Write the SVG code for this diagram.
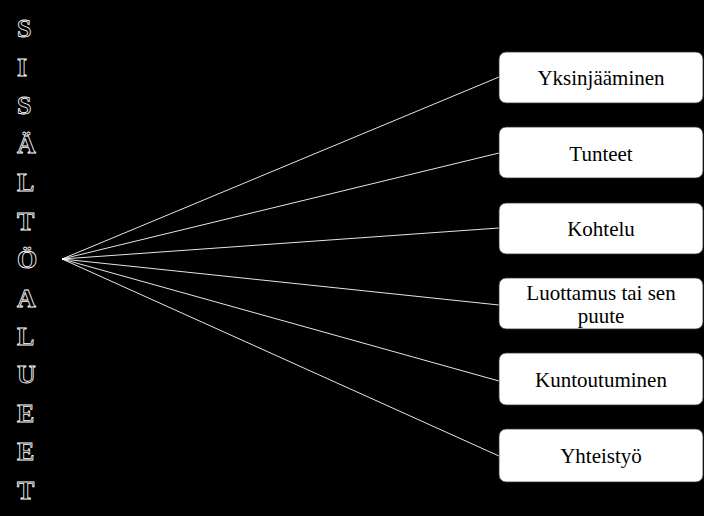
<svg xmlns="http://www.w3.org/2000/svg" width="704" height="516" viewBox="0 0 704 516">
<style>
.bg{fill:#000}
.box{fill:#fff;stroke:#333;stroke-width:0.8}
.lbl{font-family:'Liberation Serif','DejaVu Serif',serif;font-size:21px;fill:#000;text-anchor:middle}
.vt{font-family:'Liberation Serif','DejaVu Serif',serif;font-size:26px;font-weight:bold;fill:#000;stroke:#fff;stroke-width:0.8}
.con{stroke:#fff;stroke-width:0.9;fill:none}
</style>
<rect class="bg" x="0" y="0" width="704" height="516"/>
<g id="title">
<text class="vt" x="17" y="37.3">S</text>
<text class="vt" x="17" y="75.8">I</text>
<text class="vt" x="17" y="114.2">S</text>
<text class="vt" x="17" y="152.7">Ä</text>
<text class="vt" x="17" y="191.1">L</text>
<text class="vt" x="17" y="229.6">T</text>
<text class="vt" x="17" y="268">Ö</text>
<text class="vt" x="17" y="306.5">A</text>
<text class="vt" x="17" y="344.9">L</text>
<text class="vt" x="17" y="383.4">U</text>
<text class="vt" x="17" y="421.8">E</text>
<text class="vt" x="17" y="460.3">E</text>
<text class="vt" x="17" y="498.7">T</text>
</g>
<g id="connectors">
<line class="con" x1="62" y1="259" x2="499" y2="77"/>
<line class="con" x1="62" y1="259" x2="499" y2="153"/>
<line class="con" x1="62" y1="259" x2="499" y2="228"/>
<line class="con" x1="62" y1="259" x2="499" y2="305"/>
<line class="con" x1="62" y1="259" x2="499" y2="381"/>
<line class="con" x1="62" y1="259" x2="499" y2="456"/>
</g>
<g id="n1"><rect class="box" x="499" y="52" width="204" height="51" rx="7"/><text class="lbl" x="601" y="85">Yksinjääminen</text></g>
<g id="n2"><rect class="box" x="499" y="127" width="204" height="51" rx="7"/><text class="lbl" x="601" y="160.5">Tunteet</text></g>
<g id="n3"><rect class="box" x="499" y="203" width="204" height="51" rx="7"/><text class="lbl" x="601" y="236">Kohtelu</text></g>
<g id="n4"><rect class="box" x="499" y="278" width="204" height="51" rx="7"/><text class="lbl" x="601" y="300">Luottamus tai sen</text><text class="lbl" x="601" y="323">puute</text></g>
<g id="n5"><rect class="box" x="499" y="353" width="204" height="52" rx="7"/><text class="lbl" x="601" y="387">Kuntoutuminen</text></g>
<g id="n6"><rect class="box" x="499" y="429" width="204" height="53" rx="7"/><text class="lbl" x="601" y="463">Yhteistyö</text></g>
</svg>
